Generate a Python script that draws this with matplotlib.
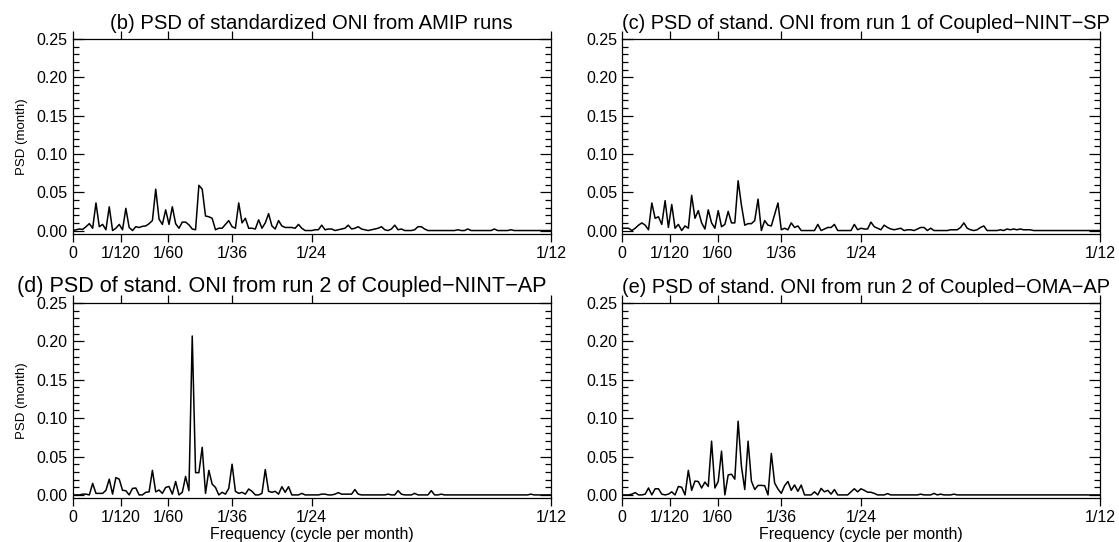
import matplotlib

matplotlib.use("Agg")
import matplotlib.pyplot as plt
import numpy as np
from matplotlib.ticker import FixedLocator, FormatStrFormatter, MultipleLocator

plt.rcParams["font.family"] = ["Liberation Sans", "DejaVu Sans"]

# periodogram frequencies k / record length (months), up to 1/12
record_months = 1728

psd_amip = [
    0.000, 0.001, 0.002, 0.0015, 0.005, 0.009, 0.003, 0.036, 0.005, 0.008, 0.001, 0.031,
    0.000, 0.003, 0.008, 0.001, 0.029, 0.004, 0.000, 0.005, 0.004, 0.0055, 0.006, 0.009,
    0.013, 0.054, 0.015, 0.008, 0.027, 0.008, 0.031, 0.009, 0.003, 0.011, 0.011, 0.0075,
    0.002, 0.001, 0.059, 0.054, 0.019, 0.018, 0.016, 0.001, 0.003, 0.003, 0.008, 0.013,
    0.005, 0.003, 0.036, 0.010, 0.016, 0.003, 0.003, 0.002, 0.014, 0.003, 0.010, 0.022,
    0.006, 0.002, 0.013, 0.006, 0.004, 0.004, 0.004, 0.003, 0.008, 0.003, 0.000, 0.000,
    0.000, 0.001, 0.001, 0.007, 0.001, 0.002, 0.002, 0.000, 0.001, 0.002, 0.003, 0.007,
    0.002, 0.003, 0.005, 0.002, 0.001, 0.000, 0.001, 0.002, 0.003, 0.005, 0.001, 0.000,
    0.002, 0.007, 0.001, 0.002, 0.000, 0.000, 0.000, 0.001, 0.005, 0.005, 0.002, 0.000,
    0.000, 0.000, 0.000, 0.000, 0.000, 0.000, 0.000, 0.000, 0.001, 0.000, 0.000, 0.002,
    0.000, 0.000, 0.000, 0.000, 0.000, 0.000, 0.000, 0.002, 0.000, 0.000, 0.000, 0.000,
    0.001, 0.000, 0.000, 0.000, 0.000, 0.000, 0.000, 0.000, 0.000, 0.000, 0.000, 0.000,
    0.000,
]

psd_nint_sp = [
    0.003, 0.003, 0.003, 0.000, 0.003, 0.007, 0.010, 0.007, 0.001, 0.036, 0.016, 0.018,
    0.008, 0.039, 0.004, 0.034, 0.003, 0.008, 0.000, 0.006, 0.003, 0.046, 0.016, 0.026,
    0.010, 0.002, 0.027, 0.010, 0.003, 0.026, 0.005, 0.008, 0.025, 0.010, 0.010, 0.065,
    0.033, 0.007, 0.009, 0.009, 0.013, 0.041, 0.000, 0.013, 0.007, 0.006, 0.021, 0.036,
    0.001, 0.003, 0.001, 0.010, 0.004, 0.006, 0.000, 0.000, 0.000, 0.000, 0.000, 0.008,
    0.000, 0.002, 0.004, 0.004, 0.008, 0.000, 0.000, 0.000, 0.000, 0.000, 0.008, 0.001,
    0.003, 0.002, 0.002, 0.011, 0.005, 0.003, 0.001, 0.007, 0.004, 0.002, 0.001, 0.002,
    0.003, 0.000, 0.001, 0.001, 0.000, 0.002, 0.004, 0.004, 0.000, 0.003, 0.000, 0.000,
    0.000, 0.000, 0.000, 0.001, 0.001, 0.001, 0.004, 0.010, 0.003, 0.001, 0.000, 0.001,
    0.004, 0.006, 0.000, 0.000, 0.000, 0.000, 0.001, 0.000, 0.002, 0.001, 0.002, 0.001,
    0.002, 0.001, 0.001, 0.001, 0.000, 0.000, 0.000, 0.000, 0.000, 0.000, 0.000, 0.000,
    0.000, 0.000, 0.000, 0.000, 0.000, 0.000, 0.000, 0.000, 0.000, 0.000, 0.000, 0.000,
    0.000,
]

psd_nint_ap = [
    0.000, 0.000, 0.000, 0.001, 0.001, 0.000, 0.015, 0.002, 0.002, 0.002, 0.006, 0.0205,
    0.001, 0.0226, 0.0205, 0.006, 0.0055, 0.000, 0.0085, 0.009, 0.000, 0.000, 0.0034, 0.004,
    0.032, 0.004, 0.0064, 0.002, 0.0098, 0.011, 0.001, 0.0175, 0.000, 0.0034, 0.024, 0.0055,
    0.207, 0.029, 0.029, 0.062, 0.002, 0.032, 0.014, 0.0098, 0.000, 0.0034, 0.001, 0.0085,
    0.040, 0.0047, 0.002, 0.0034, 0.001, 0.0077, 0.0047, 0.000, 0.000, 0.002, 0.033, 0.0047,
    0.0034, 0.0047, 0.001, 0.0107, 0.0034, 0.0107, 0.000, 0.000, 0.000, 0.002, 0.000, 0.000,
    0.000, 0.000, 0.000, 0.001, 0.001, 0.000, 0.000, 0.001, 0.003, 0.001, 0.001, 0.001,
    0.001, 0.007, 0.001, 0.000, 0.000, 0.000, 0.000, 0.000, 0.000, 0.000, 0.000, 0.001,
    0.000, 0.000, 0.0056, 0.001, 0.000, 0.000, 0.000, 0.002, 0.000, 0.000, 0.000, 0.000,
    0.0056, 0.000, 0.000, 0.001, 0.000, 0.000, 0.000, 0.000, 0.000, 0.000, 0.000, 0.000,
    0.000, 0.000, 0.000, 0.000, 0.000, 0.000, 0.000, 0.000, 0.000, 0.000, 0.000, 0.000,
    0.000, 0.000, 0.000, 0.000, 0.000, 0.000, 0.001, 0.000, 0.000, 0.000, 0.000, 0.000,
    0.000,
]

psd_oma_ap = [
    0.000, 0.000, 0.000, 0.001, 0.003, 0.000, 0.000, 0.001, 0.009, 0.000, 0.008, 0.008,
    0.001, 0.000, 0.001, 0.004, 0.000, 0.011, 0.010, 0.000, 0.032, 0.006, 0.018, 0.0175,
    0.009, 0.0167, 0.011, 0.070, 0.009, 0.0175, 0.057, 0.000, 0.026, 0.027, 0.0205, 0.096,
    0.037, 0.007, 0.070, 0.018, 0.007, 0.0124, 0.0124, 0.012, 0.000, 0.054, 0.0154, 0.0077,
    0.002, 0.012, 0.0175, 0.006, 0.013, 0.0047, 0.0128, 0.000, 0.000, 0.000, 0.004, 0.000,
    0.0085, 0.004, 0.006, 0.001, 0.007, 0.000, 0.000, 0.000, 0.000, 0.004, 0.008, 0.004,
    0.008, 0.006, 0.0035, 0.0035, 0.002, 0.000, 0.000, 0.000, 0.0017, 0.000, 0.000, 0.000,
    0.000, 0.000, 0.000, 0.000, 0.000, 0.000, 0.001, 0.000, 0.000, 0.000, 0.002, 0.000,
    0.001, 0.000, 0.000, 0.000, 0.001, 0.000, 0.000, 0.000, 0.000, 0.000, 0.000, 0.000,
    0.000, 0.000, 0.000, 0.000, 0.000, 0.000, 0.000, 0.000, 0.000, 0.000, 0.000, 0.000,
    0.000, 0.000, 0.000, 0.000, 0.000, 0.000, 0.000, 0.000, 0.000, 0.000, 0.000, 0.000,
    0.000, 0.000, 0.000, 0.000, 0.000, 0.000, 0.000, 0.000, 0.000, 0.000, 0.000, 0.000,
    0.000,
]

titles = [
    "(b) PSD of standardized ONI from AMIP runs",
    "(c) PSD of stand. ONI from run 1 of Coupled\u2212NINT\u2212SP",
    "(d) PSD of stand. ONI from run 2 of Coupled\u2212NINT\u2212AP",
    "(e) PSD of stand. ONI from run 2 of Coupled\u2212OMA\u2212AP",
]
title_x = [0.5, 0.51, 0.438, 0.51]
title_size = [14.6, 14.4, 15.6, 14.4]
series = [psd_amip, psd_nint_sp, psd_nint_ap, psd_oma_ap]

xtick_vals = [0, 1 / 120, 1 / 60, 1 / 36, 1 / 24, 1 / 12]
xtick_labels = ["0", "1/120", "1/60", "1/36", "1/24", "1/12"]

fig = plt.figure(figsize=(11.19, 5.42), dpi=100)
rects = [
    [0.065, 0.569, 0.4272, 0.3589],
    [0.5558, 0.569, 0.4272, 0.3589],
    [0.065, 0.0812, 0.4272, 0.3598],
    [0.5558, 0.0812, 0.4272, 0.3598],
]

for i, (rect, psd, title) in enumerate(zip(rects, series, titles)):
    ax = fig.add_axes(rect)
    freq = np.arange(len(psd)) / record_months
    ax.plot(freq, psd, color="black", lw=1.1)
    ax.set_xlim(0, 1 / 12)
    ax.set_ylim(-0.004, 0.25)

    ax.xaxis.set_major_locator(FixedLocator(xtick_vals))
    ax.set_xticklabels(xtick_labels, fontsize=11.5)
    ax.yaxis.set_major_locator(MultipleLocator(0.05))
    ax.yaxis.set_minor_locator(MultipleLocator(0.01))
    ax.yaxis.set_major_formatter(FormatStrFormatter("%.2f"))
    ax.tick_params(axis="y", which="both", direction="in", left=True, right=True,
                   labelsize=11.5, width=0.9)
    ax.tick_params(axis="y", which="major", length=8)
    ax.tick_params(axis="y", which="minor", length=4.5)
    ax.tick_params(axis="x", which="major", direction="out", top=True, bottom=True,
                   length=6, width=0.9, pad=3)
    for sp in ax.spines.values():
        sp.set_linewidth(0.9)

    ax.text(title_x[i], 1.03, title, transform=ax.transAxes, ha="center", va="bottom",
            fontsize=title_size[i])
    if i % 2 == 0:
        ax.set_ylabel("PSD (month)", fontsize=9.5, labelpad=6)
    if i >= 2:
        ax.set_xlabel("Frequency (cycle per month)", fontsize=11.5, labelpad=1)

fig.savefig("out.png", dpi=100)
